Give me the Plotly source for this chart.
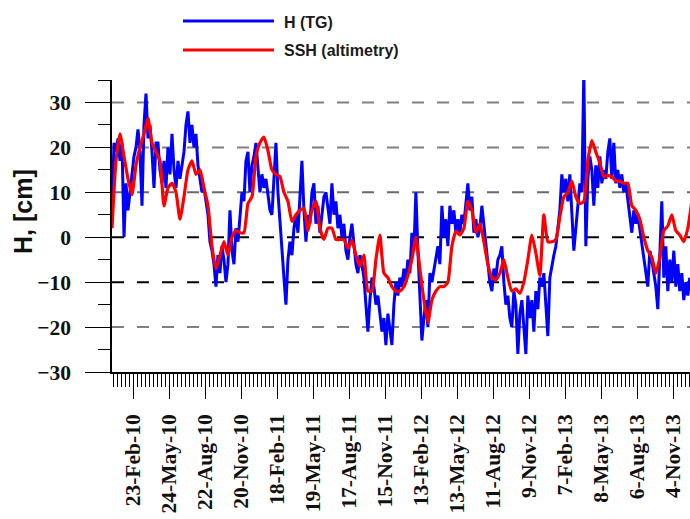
import pandas as pd
import plotly.graph_objects as go

# Tide-gauge sea level H (TG), cm, one value every 5 days from 1 Jan 2010
tg_start = "2010-01-01"
tg_values = [
    5, 21, 19, 22, 17, 21, 0, 12, 6, 10, 14, 18, 20, 24, 19, 7, 25, 32, 22, 25,
    19, 11, 21, 21, 15, 12, 17, 11, 20, 14, 23, 15, 11, 17, 13, 16, 19, 25, 28, 21,
    25, 20, 23, 16, 13, 10, 11, 8, 5, -1, -3, -6, -11, -4, -8, -2, -5, -10,
    -6, 6, -3, -6, 2, -1, 4, 10, 8, 17, 19, 10, 16, 18, 21, 15, 10, 14, 11, 13,
    9, 6, 5, 13, 21, 10, 3, -4, -9, -15, -5, -1, -4, 2, 5, 1, 9, 17, 6, -1,
    5, 3, 10, 12, 3, 7, 1, 5, 9, 10, 6, 3, 12, 5, 8, 2, 5, 0,
    3, -3, -5, 0, 3, -2, -6, -8, -4, -6, -9, -15, -21, -14, -9, -11, -15, -13, -17, -21,
    -18, -24, -17, -20, -24, -15, -10, -13, -9, -11, -7, -10, -5, -8, 1, -3, 10, -3, -13, -23,
    -18, -14, -20, -8, -10, -7, -5, -2, -6, 7, 0, 4, -2, 7, 3, 6, 1, 4,
    1, 5, 3, 8, 12, 6, 9, 1, 4, 0, 2, 7, 3, -2, -5, -10, -12, -7, -9, -5,
    -4, -2, -10, -15, -13, -18, -20, -12, -15, -26, -17, -14, -20, -26, -13, -18, -14, -21, -12, -16,
    -9, -11, -8, -14, -22, -9, -6, -4, -2, 2, 6, 14, 10, 13, 8, 14, 5, -3,
    2, 7, 12, 10, 37, -2, 13, 18, 15, 7, 16, 11, 18, 12, 15, 13, 19, 22, 13, 21,
    12, 15, 11, 14, 10, 12, 8, 5, 1, 6, 3, 5, 2, -1, -4, -8, -11, -3, -5, -8,
    -11, -16, -4, 8, -9, -2, -12, -5, -10, -3, -11, -6, -12, -8, -14, -10, -13, -9,
]

# Altimetry SSH, cm, one value every 10 days from 1 Jan 2010
ssh_start = "2010-01-01"
ssh_values = [
    2, 17, 23, 18, 13, 9.5, 16, 20, 23, 26.5, 21, 19, 17, 7, 11, 12, 10, 4, 9, 15,
    17, 14, 15, 11, 7, -2, -7, -4, -1,
    -4, 0, 1.5, 1, 1, 7.5, 9, 18, 21, 22.3, 19.3, 15, 14, 13.5, 10, 8, 3.5, 5, 6, 6.5,
    1.5, 6, 8, 2, -0.5, 2, 2, -0.5, -0.5,
    -0.5, -2.5, -0.7, -4, -6.5, -4, -12, -12, -5, 0.5, -8, -9, -11, -12, -12, -11, -8.5, -5, 0, -7,
    -14, -19, -14, -12, -11, -11, -10, -2, 1.3,
    0.5, 2, 8, 6, 1, 3, -1, -6, -9, -9.5, -8, -5, -9, -12, -11.5, -12.5, -10, -5, 0.5, -3.5,
    -8.5, 5, -1, -1, -0.5, 4.5, 9, 10, 12.5,
    9, 7.5, 8, 17, 21.5, 19, 16.5, 13.5, 13.7, 13.5, 12.5, 12.5, 12, 12, 7, 6, 4, 0, -3, -4.5,
    -8, -4.5, 1.5, 2.5, 5, 1.5, 0.5, -1, 2, 8,
]

# Date axis labels (every 90 days)
tick_dates = [
    "2010-02-23", "2010-05-24", "2010-08-22", "2010-11-20", "2011-02-18", "2011-05-19",
    "2011-08-17", "2011-11-15", "2012-02-13", "2012-05-13", "2012-08-11", "2012-11-09",
    "2013-02-07", "2013-05-08", "2013-08-06", "2013-11-04",
]
tick_labels = [
    "23-Feb-10", "24-May-10", "22-Aug-10", "20-Nov-10", "18-Feb-11", "19-May-11",
    "17-Aug-11", "15-Nov-11", "13-Feb-12", "13-May-12", "11-Aug-12", "9-Nov-12",
    "7-Feb-13", "8-May-13", "6-Aug-13", "4-Nov-13",
]
y_ticks = [-30, -20, -10, 0, 10, 20, 30]
grid_levels = [-20, -10, 0, 10, 20, 30]
grid_colors = ["#808080", "#000000", "#000000", "#6a6a6a", "#808080", "#808080"]

series_names = ["H (TG)", "SSH (altimetry)"]
series_colors = ["#0000ff", "#ff0000"]

W, H = 690, 519
ML, MR, MT, MB = 112, 0, 80, 147
PW, PH = W - ML - MR, H - MT - MB


def px_x(x):
    return (x - ML) / PW


def px_y(y):
    return (H - MB - y) / PH


tg_dates = pd.date_range(tg_start, periods=len(tg_values), freq="5D")
ssh_dates = pd.date_range(ssh_start, periods=len(ssh_values), freq="10D")

fig = go.Figure()
fig.add_trace(go.Scatter(x=tg_dates, y=tg_values, mode="lines", name=series_names[0],
                         line=dict(color=series_colors[0], width=3)))
fig.add_trace(go.Scatter(x=ssh_dates, y=ssh_values, mode="lines", name=series_names[1],
                         line=dict(color=series_colors[1], width=3.2, shape="spline",
                                   smoothing=0.5)))

# dashed horizontal grid
shapes = []
for lvl, col in zip(grid_levels, grid_colors):
    shapes.append(dict(type="line", xref="paper", yref="y", x0=0, x1=1, y0=lvl, y1=lvl,
                       line=dict(color=col, width=2, dash="12px,13px"), layer="below"))

# hand-drawn legend
legend_y = [21, 50]
for name, col, ly in zip(series_names, series_colors, legend_y):
    shapes.append(dict(type="line", xref="paper", yref="paper",
                       x0=px_x(183), x1=px_x(274), y0=px_y(ly), y1=px_y(ly),
                       line=dict(color=col, width=3)))

annotations = []
for name, ly in zip(series_names, legend_y):
    annotations.append(dict(text=name, xref="paper", yref="paper", x=px_x(282), y=px_y(ly + 1),
                            xanchor="left", yanchor="middle", showarrow=False,
                            font=dict(family="Liberation Sans", size=16, color="#1a1a1a",
                                      weight="bold")))
annotations.append(dict(text="H, [cm]", xref="paper", yref="paper", x=px_x(23), y=px_y(212),
                        xanchor="center", yanchor="middle", textangle=-90, showarrow=False,
                        font=dict(family="Liberation Sans", size=25, color="#111111",
                                  weight="bold")))

fig.update_layout(
    width=W, height=H,
    margin=dict(l=ML, r=MR, t=MT, b=MB, pad=0),
    paper_bgcolor="white", plot_bgcolor="white",
    showlegend=False,
    shapes=shapes, annotations=annotations,
    xaxis=dict(
        type="date", range=["2010-01-01", "2013-12-16 12:00"],
        tickmode="array", tickvals=tick_dates, ticktext=tick_labels,
        tickangle=-90, ticks="outside", ticklen=25, tickwidth=1, tickcolor="black",
        ticklabelstandoff=7,
        minor=dict(dtick=10 * 86400000, tick0="2010-02-23", ticks="outside", ticklen=13,
                   tickwidth=1, tickcolor="black", showgrid=False),
        showline=True, linecolor="black", linewidth=1.5,
        showgrid=False, zeroline=False,
        tickfont=dict(family="Liberation Serif", size=21.5, color="#111111", weight="bold"),
    ),
    yaxis=dict(
        range=[-30, 35], tickmode="array", tickvals=y_ticks,
        ticks="outside", ticklen=25, tickwidth=1, tickcolor="black",
        ticklabelstandoff=10,
        minor=dict(dtick=5, tick0=0, ticks="outside", ticklen=12, tickwidth=1,
                   tickcolor="black", showgrid=False),
        showline=True, linecolor="black", linewidth=1.5,
        showgrid=False, zeroline=False,
        tickfont=dict(family="Liberation Serif", size=21.5, color="#111111", weight="bold"),
    ),
)

fig.write_html("out.html")
